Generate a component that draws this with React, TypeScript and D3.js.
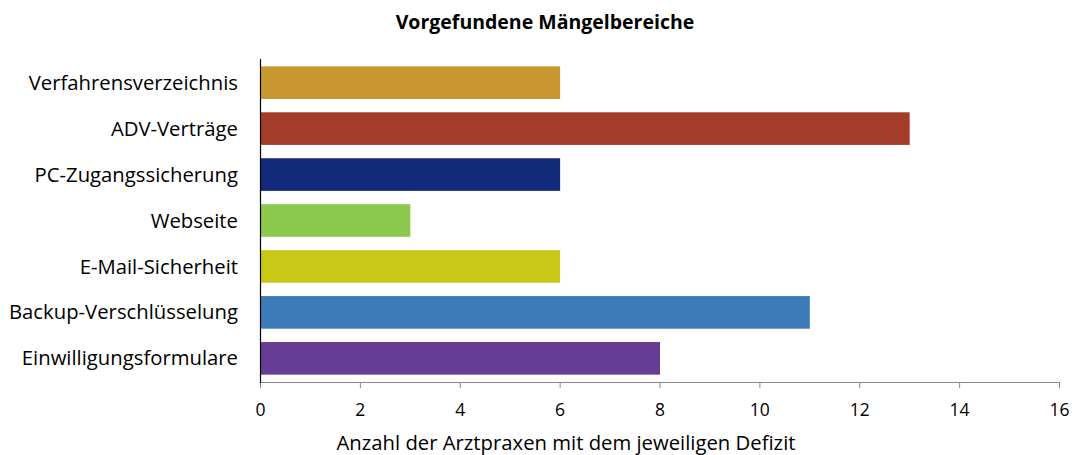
import React from "react";
import * as d3 from "d3";

const categories = [
  "Verfahrensverzeichnis",
  "ADV-Verträge",
  "PC-Zugangssicherung",
  "Webseite",
  "E-Mail-Sicherheit",
  "Backup-Verschlüsselung",
  "Einwilligungsformulare",
];
const values = [6, 13, 6, 3, 6, 11, 8];
const colors = ["#C9972F", "#A33C29", "#13297A", "#8DC94F", "#C9C816", "#3D7AB8", "#663C94"];
const xTicks = [0, 2, 4, 6, 8, 10, 12, 14, 16];
const title = "Vorgefundene Mängelbereiche";
const xTitle = "Anzahl der Arztpraxen mit dem jeweiligen Defizit";

export default function App() {
  const W = 1072, H = 455;
  const left = 260.5, right = 1059.5, top = 59, bottom = 382;
  const x = d3.scaleLinear().domain([0, 16]).range([left, right]);
  const y = d3.scaleBand().domain(categories).range([top, bottom]).paddingInner(0.29).paddingOuter(0.16);
  const font = "'Open Sans', 'Noto Sans', sans-serif";
  return (
    <svg width={W} height={H} style={{ position: "absolute", left: 0, top: 0 }} fontFamily={font}>
      <text x={545} y={29} textAnchor="middle" fontSize={19.5} fontWeight="bold" fill="#000">{title}</text>
      {categories.map((c, i) => (
        <g key={c}>
          <rect x={x(0)} y={y(c)!} width={x(values[i]) - x(0)} height={y.bandwidth()} fill={colors[i]} />
          <text x={238} y={y(c)! + y.bandwidth() / 2} dy="0.35em" textAnchor="end" fontSize={20.3} fill="#000">{c}</text>
        </g>
      ))}
      <line x1={left} x2={right} y1={bottom + 0.5} y2={bottom + 0.5} stroke="#888" strokeWidth={1} />
      {xTicks.map((t) => (
        <g key={t}>
          <line x1={x(t)} x2={x(t)} y1={bottom} y2={bottom + 6} stroke="#888" />
          <text x={x(t)} y={416} textAnchor="middle" fontSize={17.5} fill="#000">{t}</text>
        </g>
      ))}
      <line x1={left} x2={left} y1={top} y2={bottom + 1} stroke="#000" strokeWidth={1.2} />
      <text x={566} y={450} textAnchor="middle" fontSize={20.3} fill="#000">{xTitle}</text>
    </svg>
  );
}
